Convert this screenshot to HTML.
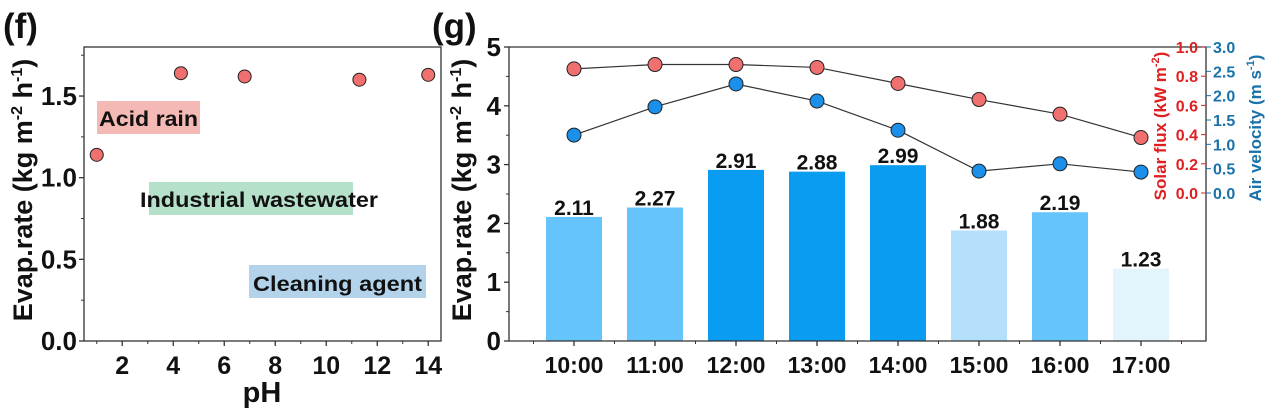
<!DOCTYPE html>
<html><head><meta charset="utf-8"><style>
body{margin:0;background:#fff}
svg{display:block;font-family:"Liberation Sans",Arial,sans-serif;font-weight:bold}
</style></head><body>
<svg id="c" width="1269" height="409" viewBox="0 0 1269 409"></svg>
<script>
const phVals=[1,4.3,6.8,11.3,14];
const phRates=[1.14,1.64,1.62,1.60,1.63];
const phTicks=[2,4,6,8,10,12,14];
const rateTicksF=[0.0,0.5,1.0,1.5];
const times=["10:00","11:00","12:00","13:00","14:00","15:00","16:00","17:00"];
const evap=[2.11,2.27,2.91,2.88,2.99,1.88,2.19,1.23];
const barColors=["#66c4fc","#66c4fc","#0a9cf0","#0a9cf0","#0a9cf0","#b5e0fb","#66c4fc","#e3f4fd"];
const solar=[0.85,0.88,0.88,0.86,0.75,0.64,0.54,0.38];
const air=[1.19,1.77,2.24,1.89,1.29,0.45,0.60,0.43];
const evapTicks=[0,1,2,3,4,5];
const solarTicks=[0.0,0.2,0.4,0.6,0.8,1.0];
const airTicks=[0.0,0.5,1.0,1.5,2.0,2.5,3.0];

const svg=document.getElementById('c');
const NS="http://www.w3.org/2000/svg";
function mk(tag,at,txt){const e=document.createElementNS(NS,tag);for(const k in at)e.setAttribute(k,at[k]);if(txt!=null)e.textContent=txt;svg.appendChild(e);return e;}

// ---- panel f ----
const fx=v=>84+(v-0.5)*(441-84)/14, fy=v=>341-v*163.3;
let e;
e=mk('text',{x:3,y:38,'font-size':35,fill:'#111'},'(f)');


const ann=[["Acid rain",97,101,103,33,"#f4b9b5",99,126,99],["Industrial wastewater",149,182,204,33,"#b5e0c9",140,207,238],["Cleaning agent",249,265,177,33,"#b3d3eb",253,291,169]];
ann.forEach((a,i)=>{
 e=mk('rect',{x:a[1],y:a[2],width:a[3],height:a[4],fill:a[5]});
 
 
 e=mk('text',{x:a[6],y:a[7],'font-size':21,fill:'#111',textLength:a[8],lengthAdjust:'spacingAndGlyphs'},a[0]);
 
 
});
e=mk('rect',{x:84,y:47,width:357,height:294,fill:'none',stroke:'#333','stroke-width':1.3});


phTicks.forEach(t=>{
 e=mk('line',{x1:fx(t),x2:fx(t),y1:341,y2:346,stroke:'#333','stroke-width':1.3});
 
 
 e=mk('line',{x1:fx(t-1),x2:fx(t-1),y1:341,y2:344,stroke:'#333'});
 
 
 e=mk('text',{x:fx(t),y:374,'font-size':25,'text-anchor':'middle',fill:'#111'},t);
 
 
});
rateTicksF.forEach(t=>{
 e=mk('line',{x1:79,x2:84,y1:fy(t),y2:fy(t),stroke:'#333','stroke-width':1.3});
 
 
 e=mk('line',{x1:81,x2:84,y1:fy(t+0.25),y2:fy(t+0.25),stroke:'#333'});
 
 
 e=mk('text',{x:77,y:fy(t)+9,'font-size':26,'text-anchor':'end',fill:'#111'},t.toFixed(1));
 
 
});
e=mk('text',{x:262,y:402,'font-size':29,'text-anchor':'middle',fill:'#111'},'pH');


e=mk('text',{transform:'translate(32,190) rotate(-90)','font-size':27,'text-anchor':'middle',fill:'#111'});
e.innerHTML='Evap.rate (kg m<tspan dy="-10" font-size="16">-2</tspan><tspan dy="10"> h</tspan><tspan dy="-10" font-size="16">-1</tspan><tspan dy="10">)</tspan>';


phVals.forEach((v,i)=>{
 e=mk('circle',{cx:fx(v),cy:fy(phRates[i]),r:6.5,fill:'#f07070',stroke:'#222','stroke-width':1});
 
 
});

// ---- panel g ----
const gx=i=>574+81*i, gy=v=>341-v*58.8;
const sy=v=>193-v*146, ay=v=>193-v*146/3;
e=mk('text',{x:432,y:38,'font-size':35,fill:'#111'},'(g)');


evap.forEach((v,i)=>{
 e=mk('rect',{x:gx(i)-28,y:gy(v),width:56,height:gy(0)-gy(v),fill:barColors[i]});
 
 
 e=mk('text',{x:gx(i),y:gy(v)-2,'font-size':21,'text-anchor':'middle',fill:'#111'},v.toFixed(2));
 
 
 e=mk('text',{x:gx(i),y:373,'font-size':23,'text-anchor':'middle',fill:'#111'},times[i]);
 
 
 e=mk('line',{x1:gx(i),x2:gx(i),y1:341,y2:346,stroke:'#333','stroke-width':1.3});
 
 
});
for(let i=0;i<=8;i++){e=mk('line',{x1:gx(i)-40.5,x2:gx(i)-40.5,y1:341,y2:344,stroke:'#333'});
 
 }
e=mk('path',{d:'M509,47H1206V341H509Z',fill:'none',stroke:'#333','stroke-width':1.3});


evapTicks.forEach(t=>{
 e=mk('line',{x1:504,x2:509,y1:gy(t),y2:gy(t),stroke:'#333','stroke-width':1.3});
 
 
 if(t<5){e=mk('line',{x1:506,x2:509,y1:gy(t+0.5),y2:gy(t+0.5),stroke:'#333'});
 
 }
 e=mk('text',{x:501,y:gy(t)+9,'font-size':26,'text-anchor':'end',fill:'#111'},t);
 
 
});
e=mk('text',{transform:'translate(471,190) rotate(-90)','font-size':27,'text-anchor':'middle',fill:'#111'});
e.innerHTML='Evap.rate (kg m<tspan dy="-10" font-size="16">-2</tspan><tspan dy="10"> h</tspan><tspan dy="-10" font-size="16">-1</tspan><tspan dy="10">)</tspan>';


// lines
e=mk('polyline',{points:solar.map((v,i)=>gx(i)+','+sy(v)).join(' '),fill:'none',stroke:'#333','stroke-width':1.2});


e=mk('polyline',{points:air.map((v,i)=>gx(i)+','+ay(v)).join(' '),fill:'none',stroke:'#333','stroke-width':1.2});


solar.forEach((v,i)=>{e=mk('circle',{cx:gx(i),cy:sy(v),r:7,fill:'#f07070',stroke:'#222','stroke-width':1});
 
 });
air.forEach((v,i)=>{e=mk('circle',{cx:gx(i),cy:ay(v),r:7,fill:'#1a90ea',stroke:'#222','stroke-width':1});
 
 });
// right axes
solarTicks.forEach(t=>{
 e=mk('line',{x1:1201,x2:1206,y1:sy(t),y2:sy(t),stroke:'#d22','stroke-width':1});
 
 
 e=mk('text',{x:1198,y:sy(t)+6,'font-size':16,'text-anchor':'end',fill:'#e02020'},t.toFixed(1));
 
 
});
airTicks.forEach(t=>{
 e=mk('line',{x1:1206,x2:1211,y1:ay(t),y2:ay(t),stroke:'#1a6fa0','stroke-width':1});
 
 
 e=mk('text',{x:1213,y:ay(t)+6,'font-size':16,fill:'#1a72a8'},t.toFixed(1));
 
 
});
e=mk('text',{transform:'translate(1166,126) rotate(-90)','font-size':17,'text-anchor':'middle',fill:'#e02020'});
e.innerHTML='Solar flux (kW m<tspan dy="-7" font-size="11">-2</tspan><tspan dy="7">)</tspan>';


e=mk('text',{transform:'translate(1261,128) rotate(-90)','font-size':17,'text-anchor':'middle',fill:'#1a72a8'});
e.innerHTML='Air velocity (m s<tspan dy="-7" font-size="11">-1</tspan><tspan dy="7">)</tspan>';


</script>
</body></html>
